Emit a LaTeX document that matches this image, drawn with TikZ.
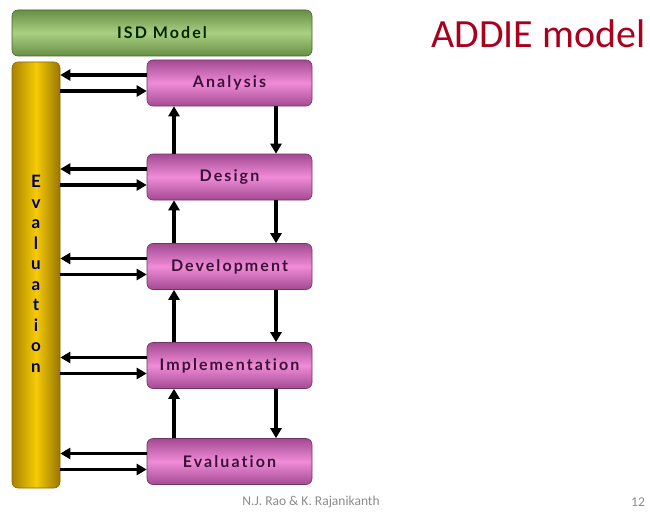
\documentclass[tikz,border=0pt]{standalone}
\usepackage{fontspec}
\setmainfont{Carlito}
\newfontfamily\gillfont[LetterSpace=13, Ligatures=NoCommon]{Lato}
\usetikzlibrary{arrows.meta}

\definecolor{isdgreen}{HTML}{A9CF82}
\definecolor{isddark}{HTML}{678F45}
\definecolor{boxpink}{HTML}{F08BD8}
\definecolor{boxdark}{HTML}{A24A92}
\definecolor{pillgold}{HTML}{F6CA06}
\definecolor{pilldark}{HTML}{A88400}
\definecolor{labelink}{HTML}{3A1238}
\definecolor{titlered}{HTML}{A8001E}

\begin{document}
\begin{tikzpicture}[
  x=1pt,
  y=-1pt, % <-- pixel-like coordinates, y grows downwards
  >={Triangle[length=10pt,width=11pt]},
  stagebox/.style={rectangle, rounded corners=6pt, draw=boxdark!70!black, line width=0.6pt,
    minimum width=165pt, minimum height=46pt,
    top color=boxdark, bottom color=boxdark, middle color=boxpink,
    font=\gillfont\bfseries\fontsize{16}{18}\selectfont, text=labelink},
  arr/.style={->, line width=3.2pt, black}
]

\useasboundingbox (0,0) rectangle (650,519);
\fill[white] (0,0) rectangle (650,519);

% Frame of the model
\node[rectangle, rounded corners=6pt, draw=isddark!70!black, line width=0.6pt,
  minimum width=300pt, minimum height=46pt,
  top color=isddark, bottom color=isddark, middle color=isdgreen,
  font=\gillfont\bfseries\fontsize{16}{18}\selectfont, text=black!85!green] (isd) at (162,33) {ISD Model};
\node[rectangle, rounded corners=6pt, draw=pilldark!80!black, line width=0.6pt,
  minimum width=48pt, minimum height=426pt,
  left color=pilldark, right color=pilldark!90!black, middle color=pillgold] (pil) at (36,275) {};
\node[align=center, text=blue!40!black,
  font=\gillfont\bfseries\fontsize{17}{20.5}\selectfont] (pilltext) at (36,274)
  {E\\v\\a\\l\\u\\a\\t\\i\\o\\n};

% --- Stages ---
\node[stagebox] (ana) at (229.5,83) {Analysis};
\node[stagebox] (des) at (229.5,177) {Design};
\node[stagebox] (dev) at (229.5,266.5) {Development};
\node[stagebox] (imp) at (229.5,365.5) {Implementation};
\node[stagebox] (evl) at (229.5,461.5) {Evaluation};

% --- Links to the evaluation pillar ---
\foreach \s in {ana,des,dev,imp,evl}{
  \draw[arr] ([yshift=8pt]\s.west) -- ([yshift=8pt]\s.west -| pil.east);
  \draw[arr] ([yshift=-8pt]\s.west -| pil.east) -- ([yshift=-8pt]\s.west);
}

% --- Forward and feedback between stages ---
\foreach \a/\b in {ana/des,des/dev,dev/imp,imp/evl}{
  \draw[arr] ([xshift=46.5pt]\a.south) -- ([xshift=46.5pt]\b.north);
  \draw[arr] ([xshift=-55.5pt]\b.north) -- ([xshift=-55.5pt]\a.south);
}

% Title and footer
\node[text=titlered, font=\fontsize{40}{44}\selectfont] (title) at (538.5,34) {ADDIE model};
\node[text=black!45, font=\fontsize{13.5}{15}\selectfont] (authors) at (311,502) {N.J. Rao \& K. Rajanikanth};
\node[text=black!45, font=\fontsize{13.5}{15}\selectfont] (page) at (638,502) {12};

\end{tikzpicture}
\end{document}
